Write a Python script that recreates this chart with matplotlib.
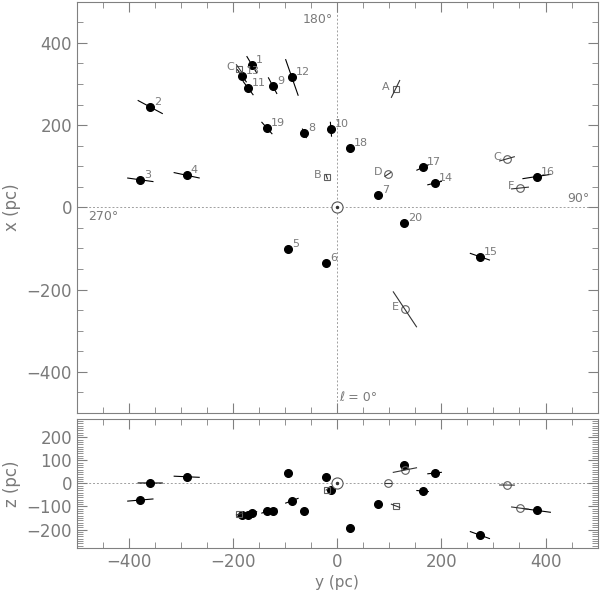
# Positions of nearby stars / groups in galactic coordinates (x-y plane and y-z plane)
import numpy as np
import matplotlib.pyplot as plt
from matplotlib.ticker import MultipleLocator

# filled points: numbered stars
star_id = [str(i) for i in range(1, 21)]
star_y = [-164, -359, -378, -289, -95, -21, 78, -63, -124, -12,
          -171, -87, -183, 187, 274, 383, 164, 24, -135, 128]
star_x = [347, 244, 67, 78, -102, -135, 29, 180, 296, 190,
          290, 316, 320, 59, -120, 75, 97, 145, 193, -39]
star_z = [-130, 2, -72, 29, 47, 29, -90, -120, -119, -27,
          -135, -75, -136, 45, -224, -117, -33, -194, -120, 78]
star_err = [23, 28, 25, 25, 6, 5, 4, 13, 22, 17,
            20, 46, 18, 14, 25, 28, 13, 4, 19, 6]

# open symbols: lettered objects
obj_id = ["A", "B", "C", "C", "D", "E", "F"]
obj_kind = ["s", "s", "s", "o", "o", "o", "o"]
obj_y = [112, -20, -188, 326, 97, 130, 351]
obj_x = [288, 74, 337, 118, 80, -248, 47]
obj_z = [-97, -27, -133, -7, 0, 58, -107]
obj_err = [23, 5, 12, 15, 7, 49, 17]

grey = "#808080"
tgrey = "#7a7a7a"

fig = plt.figure(figsize=(6, 5.95), dpi=100)
ax1 = fig.add_axes([0.128, 0.306, 0.868, 0.691])
ax2 = fig.add_axes([0.128, 0.079, 0.868, 0.217])


def radial(y, x, z, e):
    # error bar along the line of sight
    d = np.sqrt(y**2 + x**2 + z**2)
    f = e / d
    return (y * (1 - f), y * (1 + f)), (x * (1 - f), x * (1 + f)), (z * (1 - f), z * (1 + f))


for ax in (ax1, ax2):
    for sp in ax.spines.values():
        sp.set_color(grey)
        sp.set_linewidth(0.8)
    ax.tick_params(which="both", direction="in", top=True, right=True,
                   colors=grey, labelcolor=tgrey, labelsize=12)
    ax.tick_params(which="major", length=7)
    ax.tick_params(which="minor", length=4)
    ax.xaxis.set_major_locator(MultipleLocator(200))
    ax.xaxis.set_minor_locator(MultipleLocator(50))
    ax.set_xlim(-500, 500)

dash = dict(color="#a0a0a0", lw=0.7, ls=(0, (2, 2)), zorder=0)

# ---- top panel: x vs y ----
ax1.axvline(0, **dash)
ax1.axhline(0, **dash)
ax1.set_ylim(-500, 500)
ax1.yaxis.set_major_locator(MultipleLocator(200))
ax1.yaxis.set_minor_locator(MultipleLocator(50))
ax1.tick_params(labelbottom=False)
ax1.set_ylabel("x (pc)", color=tgrey, fontsize=12)

for i in range(len(star_id)):
    ys, xs, zs = radial(star_y[i], star_x[i], star_z[i], star_err[i])
    ax1.plot(ys, xs, color="black", lw=0.8, zorder=2)
    ax1.plot(star_y[i], star_x[i], "o", color="black", ms=5.5, zorder=3)
    ax1.annotate(star_id[i], (star_y[i], star_x[i]), xytext=(3, 0),
                 textcoords="offset points", ha="left", va="bottom",
                 fontsize=8, color=tgrey)

for i in range(len(obj_id)):
    ys, xs, zs = radial(obj_y[i], obj_x[i], obj_z[i], obj_err[i])
    ax1.plot(ys, xs, color="#333333", lw=0.8, zorder=4)
    ms = 5 if obj_kind[i] == "s" else 5.5
    ax1.plot(obj_y[i], obj_x[i], obj_kind[i], mfc="none", mec="#606060",
             mew=0.8, ms=ms, zorder=3)
    ax1.annotate(obj_id[i], (obj_y[i], obj_x[i]), xytext=(-4, 1.5),
                 textcoords="offset points", ha="right", va="center",
                 fontsize=8, color=tgrey)

ax1.plot(0, 0, "o", mfc="white", mec="#555555", mew=0.8, ms=8, zorder=5)
ax1.plot(0, 0, "o", color="#333333", ms=1.5, zorder=6)

ax1.text(-37, 458, "180°", color=tgrey, fontsize=9, ha="center", va="center")
ax1.text(-450, -22, "270°", color=tgrey, fontsize=9, ha="center", va="center")
ax1.text(463, 22, "90°", color=tgrey, fontsize=9, ha="center", va="center")
ax1.text(40, -463, "ℓ = 0°", color=tgrey, fontsize=9, ha="center", va="center")

# ---- bottom panel: z vs y ----
ax2.axhline(0, **dash)
ax2.set_ylim(-280, 280)
ax2.yaxis.set_major_locator(MultipleLocator(100))
ax2.yaxis.set_minor_locator(MultipleLocator(10))
ax2.set_yticks([-200, -100, 0, 100, 200])
ax2.set_ylabel("z (pc)", color=tgrey, fontsize=12)
ax2.set_xlabel("y (pc)", color=tgrey, fontsize=11, labelpad=3)

for i in range(len(star_id)):
    ys, xs, zs = radial(star_y[i], star_x[i], star_z[i], star_err[i])
    ax2.plot(ys, zs, color="black", lw=0.8, zorder=2)
    ax2.plot(star_y[i], star_z[i], "o", color="black", ms=5.5, zorder=3)

for i in range(len(obj_id)):
    ys, xs, zs = radial(obj_y[i], obj_x[i], obj_z[i], obj_err[i])
    ax2.plot(ys, zs, color="#333333", lw=0.8, zorder=4)
    ms = 5 if obj_kind[i] == "s" else 5.5
    ax2.plot(obj_y[i], obj_z[i], obj_kind[i], mfc="none", mec="#606060",
             mew=0.8, ms=ms, zorder=3)

ax2.plot(0, 0, "o", mfc="white", mec="#555555", mew=0.8, ms=8, zorder=5)
ax2.plot(0, 0, "o", color="#333333", ms=1.5, zorder=6)

fig.savefig("out.png", dpi=100)
